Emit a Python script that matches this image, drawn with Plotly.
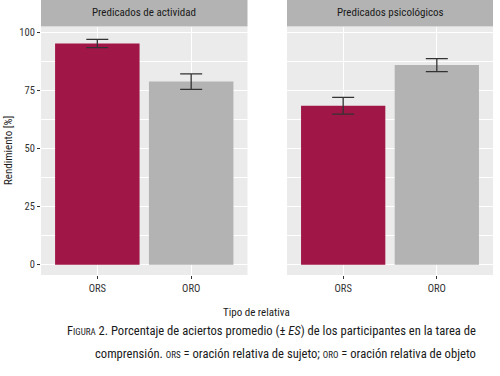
import plotly.graph_objects as go
from plotly.subplots import make_subplots

categories = ["ORS", "ORO"]
panels = ["Predicados de actividad", "Predicados psicológicos"]
means_actividad = [95.2, 78.8]
se_actividad = [1.8, 3.3]
means_psico = [68.4, 85.9]
se_psico = [3.6, 2.8]
bar_colors = ["#A01646", "#B3B3B3"]
y_ticks = [0, 25, 50, 75, 100]

W, H = 500, 376
FONT = "Roboto Condensed, Liberation Sans Narrow, Roboto, sans-serif"

fig = make_subplots(rows=1, cols=2, shared_yaxes=True)

for col, (m, s) in enumerate([(means_actividad, se_actividad), (means_psico, se_psico)], start=1):
    fig.add_trace(go.Bar(
        x=categories, y=m, width=0.9,
        marker=dict(color=bar_colors, line=dict(width=0)),
        error_y=dict(type="data", array=s, visible=True, color="#333333", thickness=1.3, width=11),
        showlegend=False,
    ), row=1, col=col)

def px(x):
    return x / W

def py(y):
    return 1 - y / H

x1d = [px(41), px(247.5)]
x2d = [px(287), px(493)]
yd = [py(275), py(27)]

common_x = dict(range=[-0.6, 1.6], showgrid=True, gridcolor="white", gridwidth=1.3,
                ticks="outside", ticklen=3, tickcolor="#333333",
                tickfont=dict(family=FONT, size=10.5, color="#333333"), zeroline=False,
                showline=False)
fig.update_layout(
    xaxis=dict(domain=x1d, **common_x),
    xaxis2=dict(domain=x2d, **common_x),
)
common_y = dict(range=[-4.4, 102.3], domain=yd, tickvals=y_ticks, showgrid=True,
                gridcolor="white", gridwidth=1.3, zeroline=False,
                minor=dict(dtick=12.5, tick0=0, showgrid=True, gridcolor="white", gridwidth=0.6, ticks=""))
fig.update_layout(
    yaxis=dict(ticks="outside", ticklen=3, tickcolor="#333333",
               tickfont=dict(family=FONT, size=10.5, color="#333333"), **common_y),
    yaxis2=dict(showticklabels=False, ticks="", matches="y", **common_y),
)

fig.update_layout(
    width=W, height=H, margin=dict(l=0, r=0, t=0, b=0),
    paper_bgcolor="white", plot_bgcolor="#EBEBEB",
    font=dict(family=FONT, color="#222222"),
    bargap=0.1,
)

# strips
for d, title in zip([x1d, x2d], panels):
    fig.add_shape(type="rect", xref="paper", yref="paper", x0=d[0], x1=d[1],
                  y0=py(26.5), y1=py(0), fillcolor="#B3B3B3", line=dict(width=0), layer="below")
    fig.add_annotation(x=(d[0] + d[1]) / 2, y=py(13), xref="paper", yref="paper",
                       xanchor="center", yanchor="middle",
                       text=title, showarrow=False, font=dict(family=FONT, size=11, color="#1A1A1A"))

fig.add_annotation(x=px(8), y=(yd[0] + yd[1]) / 2, xref="paper", yref="paper",
                   xanchor="center", yanchor="middle",
                   text="Rendimiento [%]", textangle=-90, showarrow=False,
                   font=dict(family=FONT, size=11, color="#1A1A1A"))
fig.add_annotation(x=px(256), y=py(312), xref="paper", yref="paper",
                   xanchor="center", yanchor="middle",
                   text="Tipo de relativa", showarrow=False,
                   font=dict(family=FONT, size=11, color="#1A1A1A"))

sc = "<span style='font-size:9px'>"
fig.add_annotation(x=px(478), y=py(330), xref="paper", yref="paper", xanchor="right", yanchor="middle",
                   text="F" + sc + "IGURA</span> 2. Porcentaje de aciertos promedio (± <i>ES</i>) de los participantes en la tarea de",
                   showarrow=False, font=dict(family=FONT, size=12.6, color="#1A1A1A"))
fig.add_annotation(x=px(478), y=py(353), xref="paper", yref="paper", xanchor="right", yanchor="middle",
                   text="comprensión. " + sc + "ORS</span> = oración relativa de sujeto; " + sc + "ORO</span> = oración relativa de objeto",
                   showarrow=False, font=dict(family=FONT, size=12.6, color="#1A1A1A"))

fig.write_html("out.html", config={"displayModeBar": False},
               post_script="document.body.style.margin='0px';")
